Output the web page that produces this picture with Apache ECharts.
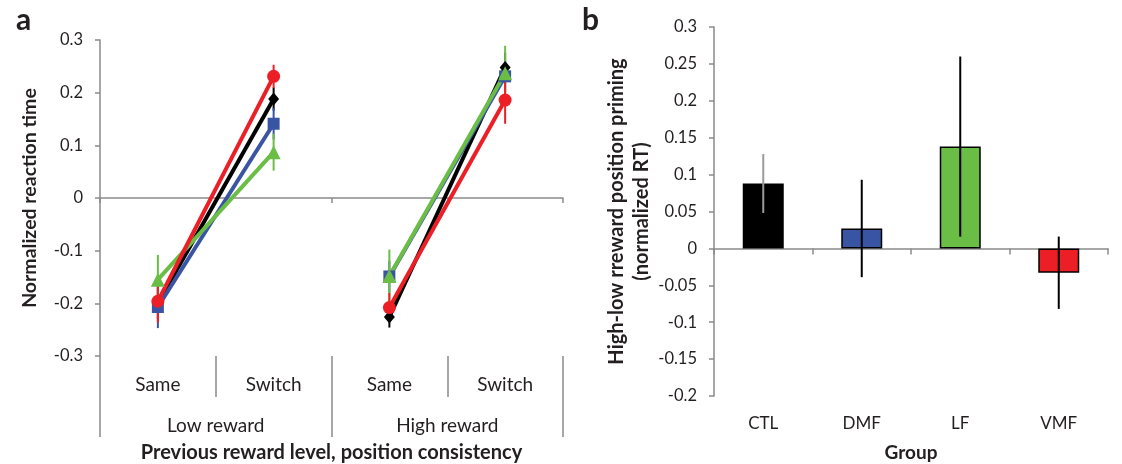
<!DOCTYPE html>
<html><head><meta charset="utf-8">
<script src="https://cdn.jsdelivr.net/npm/echarts@6/dist/echarts.min.js"></script>
<style>html,body{margin:0;padding:0;background:#fff}#c{width:1122px;height:464px}</style>
</head><body><div id="c"></div>
<script>
// ---- Panel a data ----
const conditions = ['Same', 'Switch', 'Same', 'Switch'];
const rewardGroups = ['Low reward', 'High reward'];
const ctlRT = [-0.200, 0.188, -0.226, 0.248];
const ctlRTErr = [0.030, 0.022, 0.020, 0.028];
const dmfRT = [-0.207, 0.141, -0.149, 0.231];
const dmfRTErr = [0.040, 0.030, 0.030, 0.030];
const lfRT = [-0.155, 0.087, -0.148, 0.237];
const lfRTErr = [0.047, 0.035, 0.050, 0.052];
const vmfRT = [-0.196, 0.231, -0.208, 0.186];
const vmfRTErr = [0.040, 0.022, 0.028, 0.045];
// ---- Panel b data ----
const groups = ['CTL', 'DMF', 'LF', 'VMF'];
const priming = [0.088, 0.027, 0.138, -0.033];
const primingErr = [0.040, 0.066, 0.122, 0.049];

const FONT = 'Lato';
const TXT = '#231f20';
const AXIS_GREY = '#8a8a8a';
const C_BLACK = '#000000', C_BLUE = '#3a54a4', C_GREEN = '#6abd45', C_RED = '#ec1f26';

function errSeries(xIdx, yIdx, vals, errs, colors, width, z) {
  return {
    type: 'custom', xAxisIndex: xIdx, yAxisIndex: yIdx, silent: true, z: z,
    data: vals.map((v, i) => [i, v, errs[i]]),
    encode: { x: 0, y: 1 },
    renderItem: (params, api) => {
      const i = api.value(0), v = api.value(1), e = api.value(2);
      const p1 = api.coord([i, v - e]), p2 = api.coord([i, v + e]);
      const col = Array.isArray(colors) ? colors[params.dataIndex] : colors;
      return { type: 'line', shape: { x1: p1[0], y1: p1[1], x2: p2[0], y2: p2[1] },
        style: { stroke: col, lineWidth: width } };
    }
  };
}
// one line per reward level (points within a reward level are joined, not across)
function lineSeriesPair(vals, color, symbol, size) {
  return [0, 1].map(g => ({
    type: 'line', xAxisIndex: 0, yAxisIndex: 0, symbol: symbol, symbolSize: size, z: 3, silent: true,
    data: vals.map((v, i) => (Math.floor(i / 2) === g ? v : null)),
    connectNulls: false,
    lineStyle: { color: color, width: 4 }, itemStyle: { color: color }
  }));
}

const chart = echarts.init(document.getElementById('c'));
chart.setOption({
  animation: false,
  textStyle: { fontFamily: FONT },
  title: [
    { text: 'a', left: 11, top: 0, textStyle: { fontFamily: FONT, fontSize: 30, fontWeight: 'bold', color: TXT } },
    { text: 'b', left: 577, top: 0, textStyle: { fontFamily: FONT, fontSize: 30, fontWeight: 'bold', color: TXT } }
  ],
  grid: [
    { left: 100, right: 559, top: 40, bottom: 108, outerBoundsMode: 'none', containLabel: false },
    { left: 714, right: 14, top: 27, bottom: 68, outerBoundsMode: 'none', containLabel: false }
  ],
  xAxis: [
    { gridIndex: 0, type: 'category', data: conditions, position: 'bottom',
      axisLine: { onZero: true, lineStyle: { color: AXIS_GREY, width: 1.5 } },
      axisTick: { show: true, length: 5, lineStyle: { color: AXIS_GREY, width: 1.5 } },
      axisLabel: { show: false } },
    { gridIndex: 0, type: 'category', data: conditions, position: 'bottom',
      axisLine: { show: false, onZero: false },
      axisTick: { show: true, length: 41, lineStyle: { color: AXIS_GREY, width: 1.5 } },
      axisLabel: { margin: 19, fontSize: 19, color: TXT, fontFamily: FONT } },
    { gridIndex: 0, type: 'category', data: rewardGroups, position: 'bottom',
      axisLine: { show: false, onZero: false },
      axisTick: { show: true, length: 81, lineStyle: { color: AXIS_GREY, width: 1.5 } },
      axisLabel: { margin: 60, fontSize: 19, color: TXT, fontFamily: FONT },
      name: 'Previous reward level, position consistency', nameLocation: 'middle', nameGap: 87,
      nameTextStyle: { fontSize: 20, fontWeight: 'bold', color: TXT, fontFamily: FONT } },
    { gridIndex: 1, type: 'category', data: groups, position: 'bottom',
      axisLine: { onZero: true, lineStyle: { color: AXIS_GREY, width: 1.5 } },
      axisTick: { show: true, length: 6, lineStyle: { color: AXIS_GREY, width: 1.5 } },
      axisLabel: { show: false } },
    { gridIndex: 1, type: 'category', data: groups, position: 'bottom',
      axisLine: { show: false, onZero: false }, axisTick: { show: false },
      axisLabel: { margin: 19, fontSize: 17, color: TXT, fontFamily: FONT },
      name: 'Group', nameLocation: 'middle', nameGap: 47,
      nameTextStyle: { fontSize: 19, fontWeight: 'bold', color: TXT, fontFamily: FONT } }
  ],
  yAxis: [
    { gridIndex: 0, type: 'value', min: -0.3, max: 0.3, interval: 0.1,
      axisLine: { show: true, lineStyle: { color: AXIS_GREY, width: 1.5 } },
      axisTick: { show: true, length: 5, lineStyle: { color: AXIS_GREY, width: 1.5 } },
      splitLine: { show: false },
      axisLabel: { margin: 17, fontSize: 16.5, color: TXT, fontFamily: FONT },
      name: 'Normalized reaction time', nameLocation: 'middle', nameGap: 60,
      nameTextStyle: { fontSize: 19.5, fontWeight: 'bold', color: TXT, fontFamily: FONT } },
    { gridIndex: 1, type: 'value', min: -0.2, max: 0.3, interval: 0.05,
      axisLine: { show: true, lineStyle: { color: AXIS_GREY, width: 1.5 } },
      axisTick: { show: true, length: 5, lineStyle: { color: AXIS_GREY, width: 1.5 } },
      splitLine: { show: false },
      axisLabel: { margin: 17, fontSize: 16.5, color: TXT, fontFamily: FONT },
      name: 'High-low rreward position priming\n(normalized RT)', nameLocation: 'middle', nameGap: 54,
      nameTextStyle: { fontSize: 20, fontWeight: 'bold', color: TXT, fontFamily: FONT, lineHeight: 25, align: 'center' } }
  ],
  series: [
    errSeries(0, 0, ctlRT, ctlRTErr, C_BLACK, 2, 2),
    errSeries(0, 0, dmfRT, dmfRTErr, C_BLUE, 2, 2),
    errSeries(0, 0, lfRT, lfRTErr, C_GREEN, 2, 2),
    errSeries(0, 0, vmfRT, vmfRTErr, C_RED, 2, 2),
    ...lineSeriesPair(ctlRT, C_BLACK, 'diamond', [11, 13]),
    ...lineSeriesPair(dmfRT, C_BLUE, 'rect', 12),
    ...lineSeriesPair(lfRT, C_GREEN, 'triangle', 14),
    ...lineSeriesPair(vmfRT, C_RED, 'circle', 13),
    { type: 'bar', xAxisIndex: 3, yAxisIndex: 1, barWidth: 41, silent: true, z: 2,
      data: priming.map((v, i) => ({ value: v, itemStyle: { color: [C_BLACK, C_BLUE, C_GREEN, C_RED][i] } })),
      itemStyle: { borderColor: '#000', borderWidth: 1.5 } },
    errSeries(3, 1, priming, primingErr, ['#9a9a9a', '#000', '#000', '#000'], 2, 4)
  ]
});
</script></body></html>
